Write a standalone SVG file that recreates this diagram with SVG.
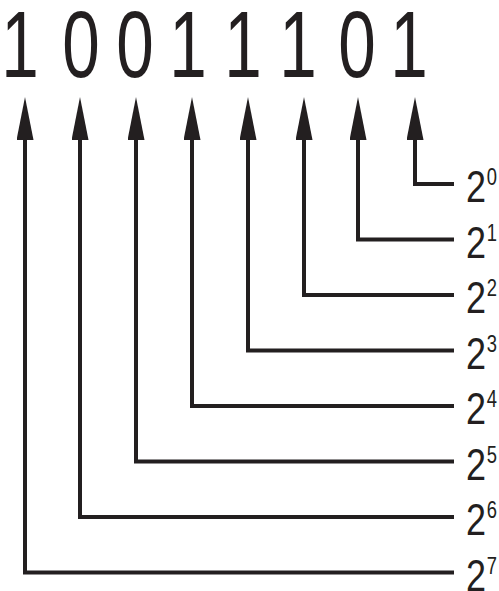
<svg xmlns="http://www.w3.org/2000/svg" width="499" height="591" viewBox="0 0 499 591">
<style>
.c{fill:none;stroke:#231f20;stroke-width:4;stroke-linejoin:miter;stroke-linecap:square}
.d{font-family:"Liberation Sans",Arial,sans-serif;font-size:95px;fill:#231f20;text-anchor:middle}
.l{font-family:"Liberation Sans",Arial,sans-serif;font-size:45px;fill:#231f20}
.s{font-family:"Liberation Sans",Arial,sans-serif;font-size:23px;fill:#231f20}
</style>
<defs>
<marker id="ah" markerUnits="userSpaceOnUse" viewBox="0 0 43 17" markerWidth="43" markerHeight="17" refX="10" refY="8.5" orient="auto">
<path d="M0,0 L43,8.5 L0,17 z" fill="#231f20"/>
</marker>
</defs>
<g id="digits">
<g id="b7" transform="translate(20,77) scale(0.71,1)"><text class="d">1</text></g>
<g id="b6" transform="translate(81,77) scale(0.71,1)"><text class="d">0</text></g>
<g id="b5" transform="translate(135,77) scale(0.71,1)"><text class="d">0</text></g>
<g id="b4" transform="translate(188,77) scale(0.71,1)"><text class="d">1</text></g>
<g id="b3" transform="translate(243,77) scale(0.71,1)"><text class="d">1</text></g>
<g id="b2" transform="translate(298,77) scale(0.71,1)"><text class="d">1</text></g>
<g id="b1" transform="translate(357,77) scale(0.71,1)"><text class="d">0</text></g>
<g id="b0" transform="translate(409,77) scale(0.71,1)"><text class="d">1</text></g>
</g>
<g id="labels">
<g id="p0" transform="translate(466,202) scale(0.8,1)"><text class="l">2</text><text class="s" x="26" y="-17">0</text></g>
<g id="p1" transform="translate(466,257.5) scale(0.8,1)"><text class="l">2</text><text class="s" x="26" y="-17">1</text></g>
<g id="p2" transform="translate(466,313) scale(0.8,1)"><text class="l">2</text><text class="s" x="26" y="-17">2</text></g>
<g id="p3" transform="translate(466,368.5) scale(0.8,1)"><text class="l">2</text><text class="s" x="26" y="-17">3</text></g>
<g id="p4" transform="translate(466,424) scale(0.8,1)"><text class="l">2</text><text class="s" x="26" y="-17">4</text></g>
<g id="p5" transform="translate(466,479.5) scale(0.8,1)"><text class="l">2</text><text class="s" x="26" y="-17">5</text></g>
<g id="p6" transform="translate(466,535) scale(0.8,1)"><text class="l">2</text><text class="s" x="26" y="-17">6</text></g>
<g id="p7" transform="translate(466,590.5) scale(0.8,1)"><text class="l">2</text><text class="s" x="26" y="-17">7</text></g>
</g>
<g id="connectors">
<path class="c" marker-end="url(#ah)" d="M452 184 H415 V130"/>
<path class="c" marker-end="url(#ah)" d="M452 239.5 H358 V130"/>
<path class="c" marker-end="url(#ah)" d="M452 295 H304 V130"/>
<path class="c" marker-end="url(#ah)" d="M452 350.5 H248 V130"/>
<path class="c" marker-end="url(#ah)" d="M452 406 H192 V130"/>
<path class="c" marker-end="url(#ah)" d="M452 461.5 H136 V130"/>
<path class="c" marker-end="url(#ah)" d="M452 517 H80 V130"/>
<path class="c" marker-end="url(#ah)" d="M452 572.5 H25 V130"/>
</g>
</svg>
